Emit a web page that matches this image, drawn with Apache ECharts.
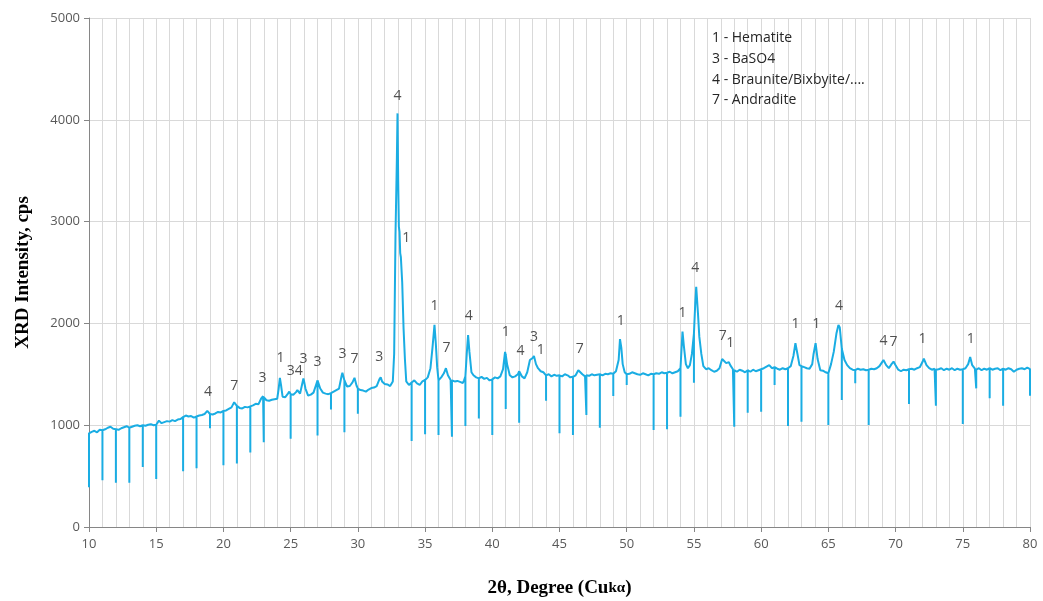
<!DOCTYPE html>
<html>
<head>
<meta charset="utf-8">
<script src="https://cdn.jsdelivr.net/npm/echarts@6/dist/echarts.min.js"></script>
<style>
  html, body { margin: 0; padding: 0; background: #fff; }
  #chartsId { width: 1043px; height: 601px; }
</style>
</head>
<body>
<div id="chartsId"></div>
<script>
// scan: [2theta, cps]
const scan = [
  [10.0, 920], [10.2, 935], [10.4, 945], [10.6, 930], [10.8, 955],
  [11.0, 950], [11.2, 960], [11.4, 975], [11.6, 985], [11.8, 965],
  [12.0, 960], [12.2, 955], [12.4, 970], [12.6, 980], [12.8, 990],
  [13.0, 975], [13.2, 985], [13.4, 995], [13.6, 1000], [13.8, 990],
  [14.0, 1000], [14.2, 995], [14.4, 1005], [14.6, 1010], [14.8, 1000],
  [15.0, 1005], [15.2, 1045], [15.4, 1020], [15.6, 1030], [15.8, 1040],
  [16.0, 1035], [16.2, 1050], [16.4, 1040], [16.6, 1055], [16.8, 1060],
  [17.0, 1080], [17.2, 1095], [17.4, 1085], [17.6, 1090], [17.8, 1075],
  [18.0, 1085], [18.2, 1095], [18.4, 1100], [18.6, 1110], [18.8, 1140], [18.9, 1145],
  [19.0, 1110], [19.2, 1105], [19.4, 1115], [19.6, 1130], [19.8, 1125],
  [20.0, 1140], [20.2, 1145], [20.4, 1160], [20.6, 1175], [20.8, 1225],
  [21.0, 1190], [21.2, 1170], [21.4, 1165], [21.6, 1180], [21.8, 1175],
  [22.0, 1185], [22.2, 1195], [22.4, 1210], [22.6, 1205], [22.8, 1260], [22.95, 1285],
  [23.0, 1275], [23.2, 1245], [23.4, 1240], [23.6, 1250], [23.8, 1255],
  [24.0, 1260], [24.1, 1350], [24.2, 1465], [24.3, 1380], [24.4, 1280], [24.6, 1275], [24.8, 1310], [24.9, 1330],
  [25.0, 1305], [25.2, 1300], [25.4, 1325], [25.5, 1345], [25.7, 1310], [25.85, 1400], [25.95, 1460],
  [26.0, 1430], [26.1, 1360], [26.3, 1290], [26.5, 1300], [26.7, 1320], [26.9, 1400],
  [27.0, 1440], [27.2, 1360], [27.4, 1320], [27.6, 1310], [27.8, 1305],
  [28.0, 1315], [28.2, 1330], [28.4, 1345], [28.6, 1360], [28.8, 1490], [28.85, 1515],
  [29.0, 1440], [29.2, 1380], [29.4, 1385], [29.6, 1420], [29.75, 1465], [29.9, 1390],
  [30.0, 1360], [30.2, 1345], [30.4, 1340], [30.6, 1330], [30.8, 1350],
  [31.0, 1365], [31.2, 1370], [31.4, 1385], [31.6, 1450], [31.7, 1470], [31.8, 1430],
  [32.0, 1405], [32.2, 1400], [32.4, 1385], [32.6, 1430], [32.7, 1700], [32.8, 2870], [32.9, 3600], [32.95, 4063],
  [33.0, 3400], [33.05, 2950], [33.1, 2900], [33.15, 2690], [33.2, 2650], [33.3, 2400], [33.4, 1950],
  [33.5, 1650], [33.6, 1430], [33.8, 1395],
  [34.0, 1420], [34.2, 1440], [34.4, 1410], [34.6, 1395], [34.8, 1430],
  [35.0, 1445], [35.2, 1470], [35.4, 1560], [35.55, 1760], [35.7, 1985], [35.8, 1800], [35.9, 1570],
  [36.0, 1440], [36.2, 1470], [36.4, 1510], [36.55, 1560], [36.7, 1490], [36.9, 1445],
  [37.0, 1440], [37.2, 1430], [37.4, 1435], [37.6, 1425], [37.8, 1415], [37.9, 1440],
  [38.0, 1480], [38.1, 1700], [38.2, 1885], [38.3, 1720], [38.45, 1520], [38.6, 1490], [38.8, 1470],
  [39.0, 1460], [39.2, 1475], [39.4, 1455], [39.6, 1465], [39.8, 1440],
  [40.0, 1450], [40.2, 1470], [40.4, 1460], [40.6, 1480], [40.8, 1550], [40.95, 1720],
  [41.0, 1690], [41.1, 1600], [41.3, 1490], [41.5, 1470], [41.7, 1480], [41.9, 1500],
  [42.0, 1530], [42.2, 1480], [42.4, 1460], [42.6, 1520], [42.8, 1640],
  [43.0, 1660], [43.1, 1680], [43.25, 1600], [43.4, 1560], [43.6, 1530], [43.8, 1520],
  [44.0, 1490], [44.2, 1500], [44.4, 1480], [44.6, 1495], [44.8, 1485],
  [45.0, 1490], [45.2, 1480], [45.4, 1500], [45.6, 1490], [45.8, 1470],
  [46.0, 1475], [46.2, 1490], [46.4, 1540], [46.5, 1545], [46.7, 1500], [46.9, 1480],
  [47.0, 1490], [47.2, 1485], [47.4, 1500], [47.6, 1490], [47.8, 1495],
  [48.0, 1500], [48.2, 1490], [48.4, 1505], [48.6, 1500], [48.8, 1510],
  [49.0, 1505], [49.2, 1530], [49.4, 1640], [49.5, 1845], [49.6, 1760], [49.7, 1600], [49.85, 1520],
  [50.0, 1500], [50.2, 1505], [50.4, 1520], [50.6, 1510], [50.8, 1500],
  [51.0, 1495], [51.2, 1510], [51.4, 1500], [51.6, 1490], [51.8, 1505],
  [52.0, 1500], [52.2, 1510], [52.4, 1505], [52.6, 1520], [52.8, 1510],
  [53.0, 1515], [53.2, 1525], [53.4, 1510], [53.6, 1520], [53.8, 1530],
  [54.0, 1560], [54.1, 1800], [54.15, 1920], [54.25, 1780], [54.4, 1600], [54.55, 1560], [54.7, 1590], [54.85, 1700],
  [55.0, 1900], [55.1, 2200], [55.17, 2360], [55.3, 2100], [55.4, 1870], [55.55, 1700], [55.7, 1580], [55.9, 1550],
  [56.1, 1560], [56.3, 1540], [56.5, 1525], [56.7, 1535], [56.9, 1560],
  [57.1, 1650], [57.2, 1655], [57.4, 1610], [57.6, 1620], [57.7, 1590], [57.9, 1550],
  [58.0, 1540], [58.2, 1525], [58.4, 1545], [58.6, 1535], [58.8, 1520],
  [59.0, 1540], [59.2, 1525], [59.4, 1545], [59.6, 1530], [59.8, 1540],
  [60.0, 1550], [60.2, 1560], [60.4, 1575], [60.6, 1590], [60.8, 1560],
  [61.0, 1570], [61.2, 1555], [61.4, 1545], [61.6, 1560], [61.8, 1550],
  [62.0, 1560], [62.2, 1580], [62.4, 1680], [62.55, 1805], [62.7, 1700], [62.85, 1590],
  [63.0, 1580], [63.2, 1570], [63.4, 1560], [63.6, 1555], [63.8, 1600], [63.9, 1700],
  [64.05, 1805], [64.2, 1650], [64.4, 1540], [64.6, 1535], [64.8, 1520],
  [65.0, 1510], [65.2, 1600], [65.4, 1720], [65.6, 1900], [65.75, 1985], [65.85, 1960],
  [66.0, 1750], [66.2, 1640], [66.4, 1590], [66.6, 1560], [66.8, 1545],
  [67.0, 1540], [67.2, 1555], [67.4, 1545], [67.6, 1550], [67.8, 1540],
  [68.0, 1545], [68.2, 1555], [68.4, 1550], [68.6, 1560], [68.8, 1580],
  [69.0, 1620], [69.1, 1640], [69.3, 1590], [69.5, 1560], [69.7, 1600], [69.85, 1625],
  [70.0, 1590], [70.2, 1545], [70.4, 1530], [70.6, 1545], [70.8, 1540],
  [71.0, 1550], [71.2, 1555], [71.4, 1545], [71.6, 1560], [71.8, 1570],
  [72.0, 1620], [72.1, 1655], [72.3, 1590], [72.5, 1560], [72.7, 1545], [72.9, 1555],
  [73.0, 1545], [73.2, 1550], [73.4, 1560], [73.6, 1540], [73.8, 1555],
  [74.0, 1545], [74.2, 1560], [74.4, 1540], [74.6, 1555], [74.8, 1545],
  [75.0, 1550], [75.2, 1560], [75.4, 1600], [75.55, 1670], [75.7, 1590], [75.9, 1555],
  [76.0, 1545], [76.2, 1560], [76.4, 1540], [76.6, 1555], [76.8, 1545],
  [77.0, 1560], [77.2, 1545], [77.4, 1555], [77.6, 1560], [77.8, 1540],
  [78.0, 1555], [78.2, 1545], [78.4, 1560], [78.6, 1550], [78.8, 1525],
  [79.0, 1545], [79.2, 1555], [79.4, 1560], [79.6, 1550], [79.8, 1565],
  [80.0, 1550]
];

// the sharp downward drops at whole degrees
const dropAngles = [10, 11, 12, 13, 14, 15, 17, 18, 19, 20, 21, 22, 23, 25, 27, 28, 29, 30,
  34, 35, 36, 37, 38, 39, 40, 41, 42, 44, 45, 46, 47, 48, 49, 50, 52, 53, 54, 55,
  58, 59, 60, 61, 62, 63, 64, 65, 66, 67, 68, 71, 73, 75, 76, 77, 78, 80];
const dropCps = [390, 460, 435, 435, 590, 471, 547, 576, 969, 606, 625, 733, 832, 867, 900, 1155, 930, 1113,
  845, 910, 903, 887, 992, 1067, 903, 1159, 1024, 1240, 920, 903, 1100, 975, 1286, 1394, 953, 960, 1083, 1417,
  985, 1123, 1133, 1395, 992, 1034, 1165, 1002, 1247, 1411, 1002, 1208, 1191, 1011, 1362, 1264, 1191, 1289];

// phase tags written over the peaks
const tagText = ["4", "7", "3", "1", "34", "3", "3", "3", "7", "3", "4", "1", "1", "7", "4", "1", "4", "3", "1",
  "7", "1", "1", "4", "7", "1", "1", "1", "4", "4", "7", "1", "1"];
const tagAngles = [18.85, 20.8, 22.9, 24.25, 25.3, 25.95, 27.0, 28.85, 29.75, 31.6, 32.95, 33.6, 35.7, 36.6, 38.25,
  41.0, 42.1, 43.1, 43.6, 46.5, 49.55, 54.15, 55.1, 57.15, 57.7, 62.55, 64.1, 65.8, 69.1, 69.85, 72.0, 75.6];
const tagCps = [1326, 1385, 1463, 1660, 1532, 1650, 1620, 1699, 1650, 1669, 4232, 2838, 2170, 1758, 2072,
  1915, 1728, 1866, 1738, 1748, 2023, 2101, 2543, 1875, 1807, 1993, 1993, 2170, 1827, 1817, 1846, 1846];

const phases = ["1 - Hematite", "3 - BaSO4", "4 - Braunite/Bixbyite/....", "7 - Andradite"];

function buildTrace() {
  const out = [];
  scan.forEach(function (p) {
    out.push([p[0], p[1]]);
    const k = dropAngles.indexOf(p[0]);
    if (k >= 0) {
      out.push([p[0], dropCps[k]]);
      out.push([p[0], p[1]]);
    }
  });
  return out;
}

const gridColor = "#d9d9d9";
const axisColor = "#868686";
const tickFont = { fontFamily: "Open Sans", fontSize: 13, color: "#595959" };

let myChart = echarts.init(document.getElementById("chartsId"));
let option = {
  animation: false,
  grid: { left: 89, right: 13, top: 18, bottom: 74, containLabel: false, outerBoundsMode: "none" },
  xAxis: {
    type: "value",
    min: 10,
    max: 80,
    interval: 5,
    name: "{a|2θ, Degree (Cu}{b|kα}{a|)}",
    nameLocation: "middle",
    nameGap: 52,
    nameTextStyle: {
      rich: {
        a: { fontFamily: "Liberation Serif", fontWeight: "bold", fontSize: 19, color: "#000" },
        b: { fontFamily: "Liberation Serif", fontWeight: "bold", fontSize: 15, color: "#000" }
      }
    },
    axisLine: { lineStyle: { color: axisColor } },
    axisTick: { show: true, length: 5, lineStyle: { color: axisColor } },
    axisLabel: Object.assign({ margin: 11 }, tickFont),
    splitLine: { show: true, lineStyle: { color: gridColor } },
    minorTick: { show: false, splitNumber: 5 },
    minorSplitLine: { show: true, lineStyle: { color: gridColor } }
  },
  yAxis: {
    type: "value",
    min: 0,
    max: 5000,
    interval: 1000,
    name: "XRD Intensity, cps",
    nameLocation: "middle",
    nameGap: 56,
    nameTextStyle: { fontFamily: "Liberation Serif", fontWeight: "bold", fontSize: 19, color: "#000" },
    axisLine: { show: true, lineStyle: { color: axisColor } },
    axisTick: { show: true, length: 5, lineStyle: { color: axisColor } },
    axisLabel: Object.assign({ margin: 9, formatter: function (v) { return String(v); } }, tickFont),
    splitLine: { show: true, lineStyle: { color: gridColor } }
  },
  graphic: [
    {
      type: "text",
      left: 712,
      top: 28,
      z: 100,
      style: {
        text: phases.join("\n"),
        fontFamily: "Open Sans",
        fontSize: 14,
        lineHeight: 20.7,
        fill: "#262626"
      }
    }
  ],
  series: [
    {
      name: "XRD",
      type: "line",
      data: buildTrace(),
      showSymbol: false,
      symbol: "none",
      sampling: null,
      lineStyle: { color: "#1aade3", width: 2 },
      z: 3
    },
    {
      name: "tags",
      type: "scatter",
      symbolSize: 1,
      itemStyle: { color: "rgba(0,0,0,0)" },
      data: tagAngles.map(function (a, i) { return [a, tagCps[i], tagText[i]]; }),
      label: {
        show: true,
        position: "inside",
        formatter: function (p) { return p.value[2]; },
        fontFamily: "Open Sans",
        fontSize: 14,
        color: "#262626"
      },
      z: 4
    }
  ]
};
myChart.setOption(option);
</script>
</body>
</html>
